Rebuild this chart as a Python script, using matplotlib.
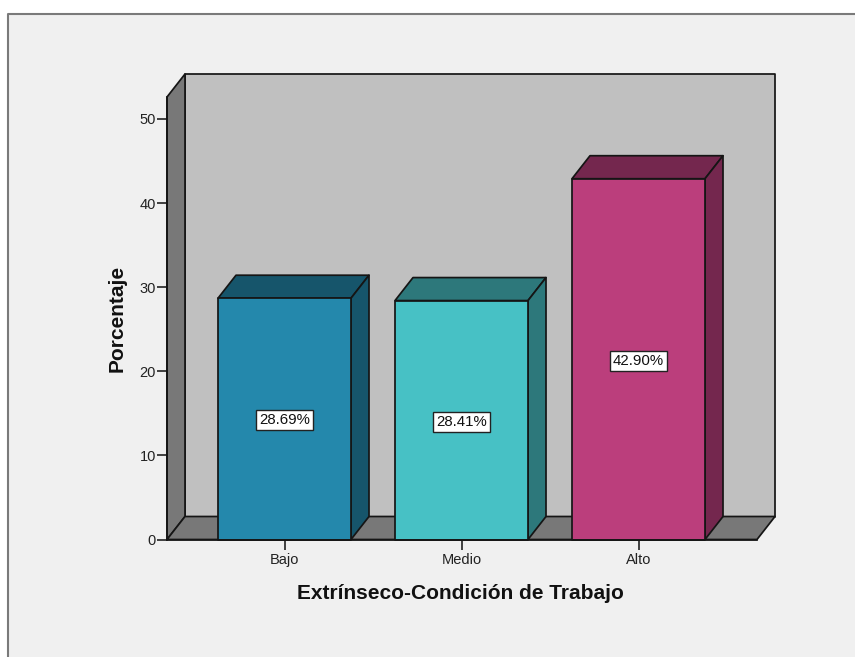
import matplotlib.pyplot as plt
from matplotlib.lines import Line2D
from matplotlib.patches import Rectangle

categories = ['Bajo', 'Medio', 'Alto']
percentages = [28.69, 28.41, 42.90]
y_ticks = [0, 10, 20, 30, 40, 50]

front_colors = ['#2488AC', '#47C1C5', '#BB3E7C']
shade_colors = ['#16556B', '#2D787B', '#74274E']
wall_color = '#C0C0C0'
side_color = '#787878'
edge_color = '#151515'

W, H = 855, 657
fig = plt.figure(figsize=(W / 100, H / 100), dpi=100, facecolor='white')
plt.rcParams['font.family'] = ['Liberation Sans', 'DejaVu Sans']

# chart background with its frame on the top and left
fig.patches.append(Rectangle((8 / W, 0), 1 - 8 / W, 1 - 14 / H, transform=fig.transFigure,
                             facecolor='#F0F0F0', edgecolor='none', zorder=-2))
frame_x = [8 / W, 8 / W, 1]
frame_y = [0, 1 - 14 / H, 1 - 14 / H]
fig.add_artist(Line2D(frame_x, frame_y, color='#7A7A7A', lw=1.5, zorder=-1))

# axes rectangle is the front plane of the box
left, right, bottom, top = 167, 757, 539.5, 97
ax = fig.add_axes([left / W, 1 - bottom / H, (right - left) / W, (bottom - top) / H])
ax.patch.set_visible(False)

px_per_cat = 177.0
px_per_unit = 8.41
x_min = -(284.5 - left) / px_per_cat
x_max = (right - 284.5) / px_per_cat
y_max = (bottom - top) / px_per_unit
ax.set_xlim(x_min, x_max)
ax.set_ylim(0, y_max)

# depth of the 3-D box in data units
dx = 18 / px_per_cat
dy = 23 / px_per_unit
bar_w = 133 / px_per_cat


def face(xs, ys, color, z):
    ax.fill(xs, ys, facecolor=color, edgecolor=edge_color, lw=1.25,
            joinstyle='round', zorder=z, clip_on=False)


# back wall, left wall, floor
face([x_min + dx, x_max + dx, x_max + dx, x_min + dx],
     [dy, dy, y_max + dy, y_max + dy], wall_color, 1)
face([x_min, x_min + dx, x_min + dx, x_min],
     [0, dy, y_max + dy, y_max], side_color, 2)
face([x_min, x_max, x_max + dx, x_min + dx],
     [0, 0, dy, dy], side_color, 2)

for i, (val, front, shade) in enumerate(zip(percentages, front_colors, shade_colors)):
    x0 = i - bar_w / 2
    x1 = i + bar_w / 2
    # top, side, then the front face
    face([x0, x1, x1 + dx, x0 + dx], [val, val, val + dy, val + dy], shade, 3)
    face([x1, x1 + dx, x1 + dx, x1], [0, dy, val + dy, val], shade, 3)
    face([x0, x1, x1, x0], [0, 0, val, val], front, 4)
    ax.text(i, val / 2, f'{val:.2f}%', ha='center', va='center_baseline', fontsize=10.8,
            color='#111111', zorder=5,
            bbox=dict(boxstyle='square,pad=0.2', facecolor='white',
                      edgecolor='#222222', lw=1.0))

for side in ['top', 'right']:
    ax.spines[side].set_visible(False)
for side in ['left', 'bottom']:
    ax.spines[side].set_linewidth(1.25)
    ax.spines[side].set_color(edge_color)
    ax.spines[side].set_zorder(6)

ax.set_yticks(y_ticks)
ax.set_xticks(range(len(categories)))
ax.set_xticklabels(categories)
ax.tick_params(axis='y', length=7, width=1.2, color='#222222', labelsize=10.5,
               labelcolor='#222222', pad=1)
ax.tick_params(axis='x', length=7, width=1.2, color='#222222', labelsize=10.5,
               labelcolor='#222222', pad=3)

ax.set_xlabel('Extrínseco-Condición de Trabajo', fontsize=15, fontweight='bold',
              color='#111111')
ax.xaxis.set_label_coords((460.5 - left) / (right - left), -(593.5 - bottom) / (bottom - top),
                          transform=ax.transAxes)
ax.xaxis.label.set_va('center')
ax.set_ylabel('Porcentaje', fontsize=15, fontweight='bold', color='#111111')
ax.yaxis.set_label_coords(-(left - 117) / (right - left), (bottom - 318.5) / (bottom - top),
                          transform=ax.transAxes)
ax.yaxis.label.set_va('center')

fig.savefig('out.png', dpi=100, facecolor=fig.get_facecolor())
